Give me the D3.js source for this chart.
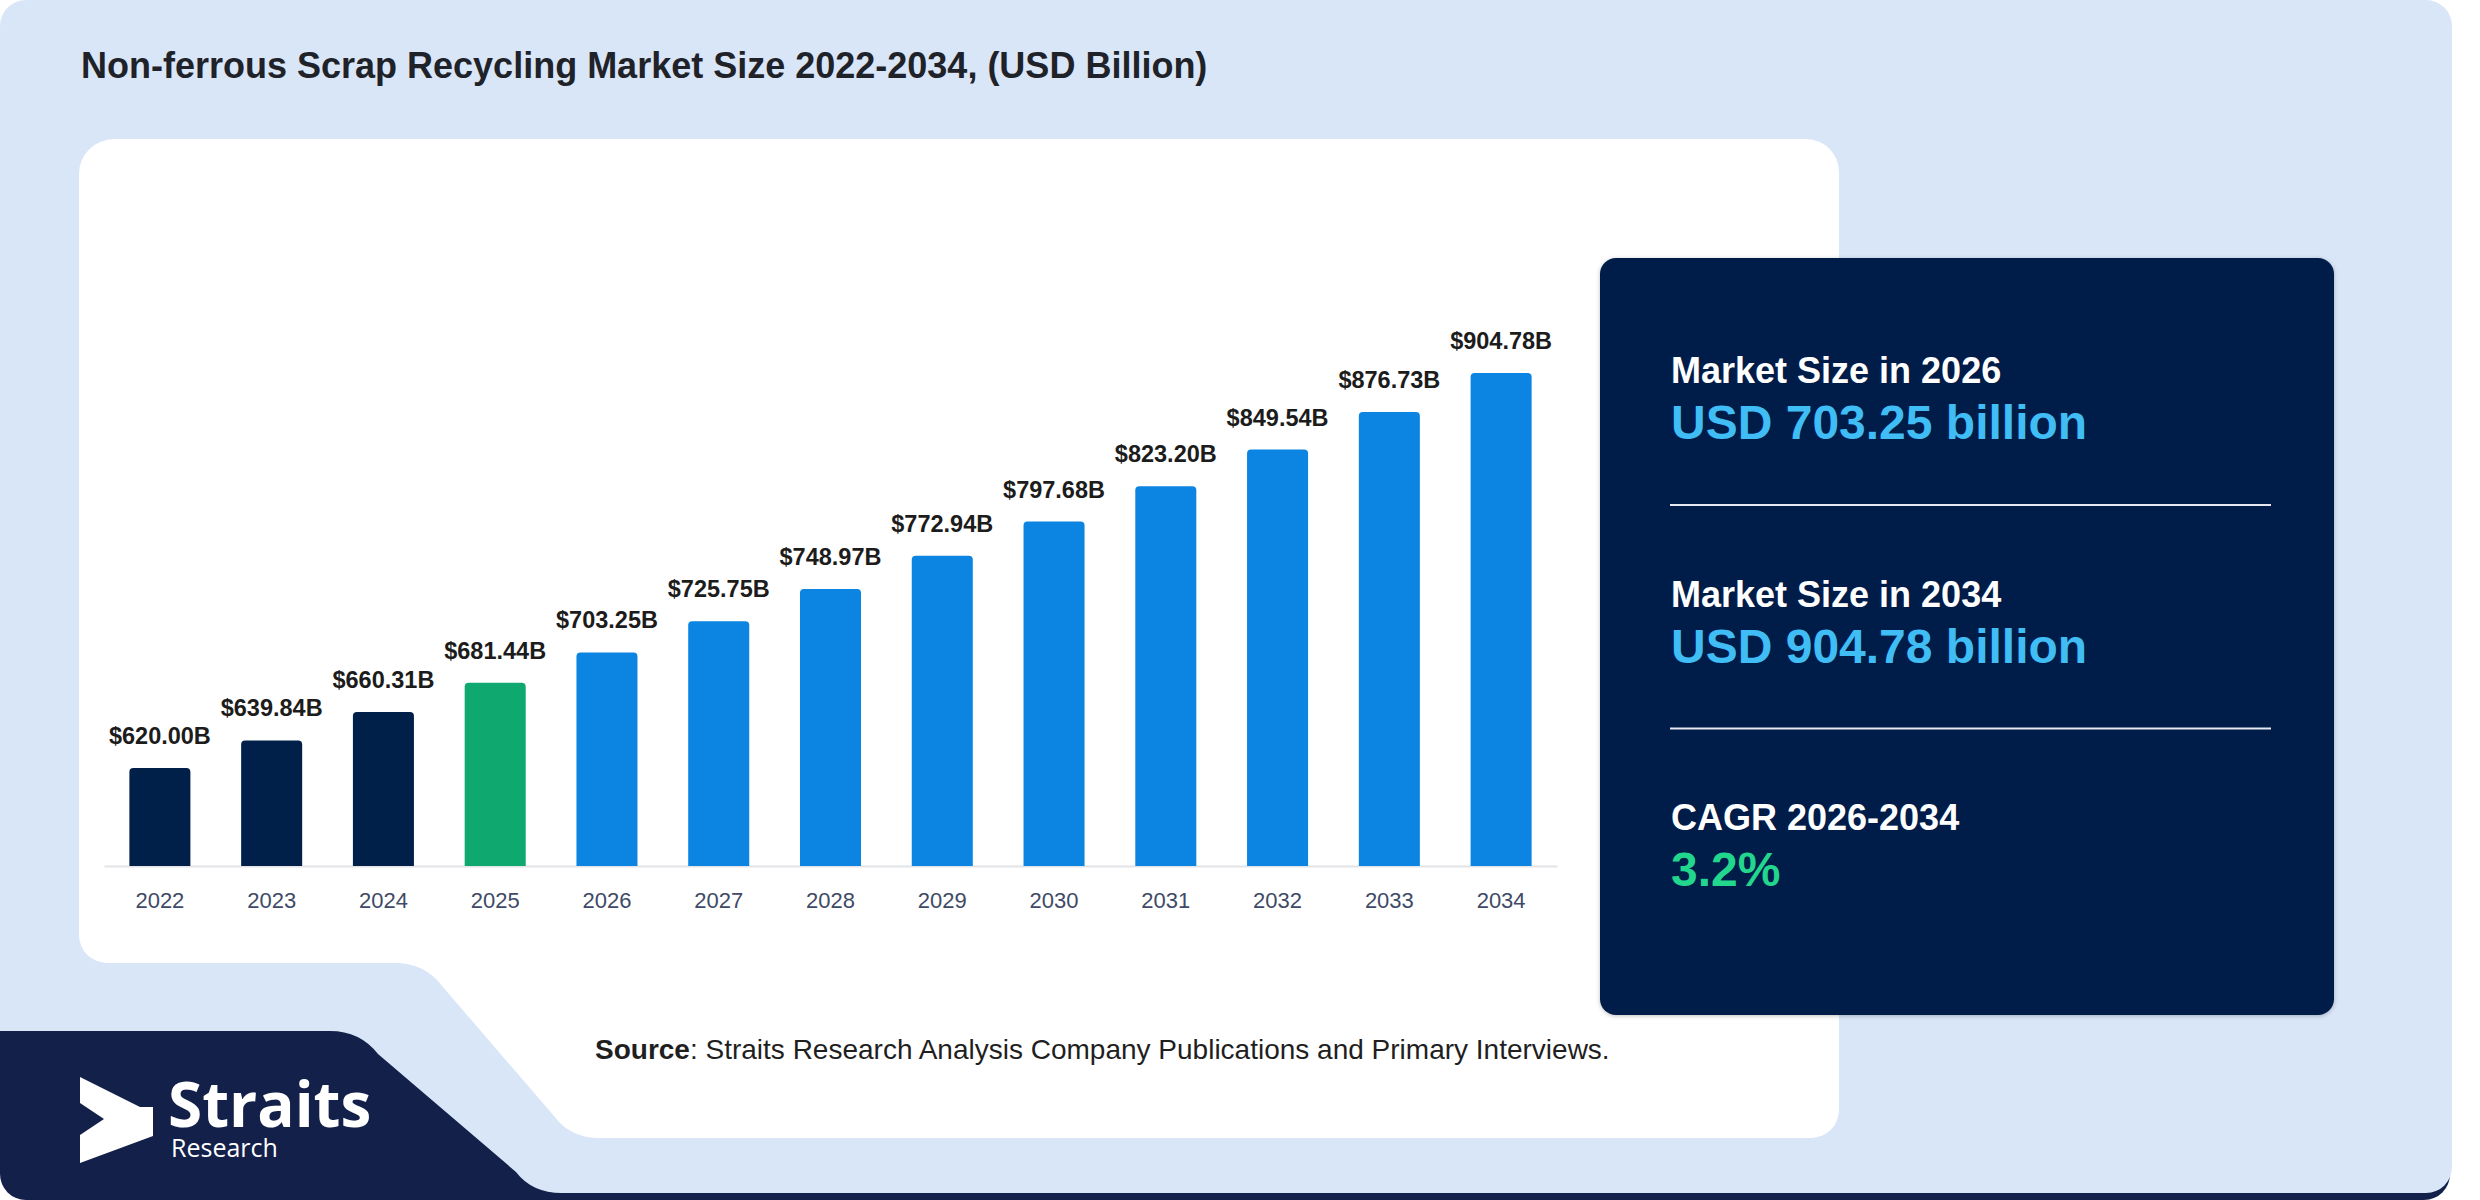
<!DOCTYPE html>
<html>
<head>
<meta charset="utf-8">
<script src="https://cdn.jsdelivr.net/npm/d3@7"></script>
<style>
  html, body { margin: 0; padding: 0; background: #ffffff; }
  svg { display: block; font-family: "Liberation Sans", Arial, sans-serif; }
</style>
</head>
<body>
<script>
// data
const years = ["2022", "2023", "2024", "2025", "2026", "2027", "2028", "2029", "2030", "2031", "2032", "2033", "2034"];
const values = [620.00, 639.84, 660.31, 681.44, 703.25, 725.75, 748.97, 772.94, 797.68, 823.20, 849.54, 876.73, 904.78];
const phase = ["hist", "hist", "hist", "base", "fcst", "fcst", "fcst", "fcst", "fcst", "fcst", "fcst", "fcst", "fcst"];
const statLabels = ["Market Size in 2026", "Market Size in 2034", "CAGR 2026-2034"];
const statValues = ["USD 703.25 billion", "USD 904.78 billion", "3.2%"];

const w = 2480, h = 1200;
const colors = { hist: "#00204a", base: "#0fa86f", fcst: "#0b84e2" };

const svg = d3.select("body").append("svg")
    .attr("width", w)
    .attr("height", h);

const defs = svg.append("defs");
const shadow = defs.append("filter").attr("id", "shadow")
    .attr("x", "-5%").attr("y", "-5%").attr("width", "110%").attr("height", "110%");
shadow.append("feDropShadow").attr("dx", 0).attr("dy", 1).attr("stdDeviation", 2)
    .attr("flood-color", "#000").attr("flood-opacity", 0.25);

//background layers
svg.append("rect")
    .attr("x", 0).attr("y", 980).attr("width", 2450).attr("height", 220)
    .attr("rx", 26)
    .attr("fill", "#13204a");

svg.append("path")
    .attr("d", "M26,0 H2426 A26,26 0 0 1 2452,26 V1167 A26,26 0 0 1 2426,1193 H562 " +
               "Q532,1193 516,1172 L378,1054 Q360,1031 330,1031 H0 V26 A26,26 0 0 1 26,0 Z")
    .attr("fill", "#d9e6f8");

//white chart card with the notch bottom-left
svg.append("path")
    .attr("d", "M114,139 H1806 A33,33 0 0 1 1839,172 V1110 A28,28 0 0 1 1811,1138 H600 " +
               "Q570,1138 554,1116 L442,986 Q425,963 395,963 H107 A28,28 0 0 1 79,935 V174 A35,35 0 0 1 114,139 Z")
    .attr("fill", "#ffffff");

//title
svg.append("text")
    .attr("x", 81).attr("y", 78)
    .attr("font-size", 36).attr("font-weight", 700)
    .attr("fill", "#1f2329")
    .text("Non-ferrous Scrap Recycling Market Size 2022-2034, (USD Billion)");

//scales
const xScale = d3.scaleBand()
    .domain(years)
    .range([104, 1557])
    .paddingInner(0.454)
    .paddingOuter(0.227);

const yScale = d3.scaleLinear()
    .domain([549.3, 904.78])
    .range([866, 373]);

//bottom axis
const bottomAxis = d3.axisBottom(xScale)
    .tickSize(0)
    .tickPadding(26);

const axisG = svg.append("g")
    .attr("transform", "translate(0,866)")
    .call(bottomAxis);
axisG.select(".domain").attr("stroke", "#e2e4e8").attr("stroke-width", 2);
axisG.selectAll("text")
    .attr("font-size", 22)
    .attr("font-family", "Liberation Sans, Arial, sans-serif")
    .attr("fill", "#3e4a66");

//bars with rounded tops
const bw = xScale.bandwidth();
const rr = 4;
function barPath(x, y, width, y0) {
    return `M${x},${y0} V${y + rr} Q${x},${y} ${x + rr},${y} H${x + width - rr} Q${x + width},${y} ${x + width},${y + rr} V${y0} Z`;
}

svg.append("g").selectAll("path")
    .data(years)
    .join("path")
    .attr("d", (d, i) => barPath(xScale(d), yScale(values[i]), bw, yScale.range()[0]))
    .attr("fill", (d, i) => colors[phase[i]]);

//value labels
svg.append("g").selectAll("text")
    .data(years)
    .join("text")
    .attr("x", d => xScale(d) + bw / 2)
    .attr("y", (d, i) => yScale(values[i]) - 24)
    .attr("text-anchor", "middle")
    .attr("font-size", 23.5).attr("font-weight", 700)
    .attr("fill", "#1c1c1c")
    .text((d, i) => "$" + d3.format(".2f")(values[i]) + "B");

//right summary panel
svg.append("rect")
    .attr("x", 1600).attr("y", 258).attr("width", 734).attr("height", 757)
    .attr("rx", 16)
    .attr("fill", "#001f4a")
    .attr("filter", "url(#shadow)");

const statG = svg.append("g");
statLabels.forEach((lab, i) => {
    const y0 = 383 + i * 223.5;
    statG.append("text")
        .attr("x", 1671).attr("y", y0)
        .attr("font-size", 36).attr("font-weight", 700)
        .attr("fill", "#ffffff")
        .text(lab);
    statG.append("text")
        .attr("x", 1671).attr("y", y0 + 56)
        .attr("font-size", 48).attr("font-weight", 700)
        .attr("fill", i === 2 ? "#22d68e" : "#3fbdf4")
        .text(statValues[i]);
    if (i < 2) {
        statG.append("line")
            .attr("x1", 1670).attr("x2", 2271)
            .attr("y1", y0 + 122).attr("y2", y0 + 122)
            .attr("stroke", "#e6e9ef").attr("stroke-width", 2);
    }
});

//source line
const src = svg.append("text")
    .attr("x", 595).attr("y", 1059)
    .attr("font-size", 28)
    .attr("fill", "#1f1f1f");
src.append("tspan").attr("font-weight", 700).text("Source");
src.append("tspan").text(": Straits Research Analysis Company Publications and Primary Interviews.");

//logo
const logo = svg.append("g").attr("transform", "translate(80,1077)");
logo.append("path")
    .attr("d", "M0,0 L60,30 H73 V59 L0,86 V58 L24,42 L0,26 Z")
    .attr("fill", "#ffffff");
logo.append("text")
    .attr("x", 88).attr("y", 50)
    .attr("font-family", "Open Sans, sans-serif")
    .attr("font-size", 62).attr("font-weight", 700)
    .attr("fill", "#ffffff")
    .text("Straits");
logo.append("text")
    .attr("x", 91).attr("y", 80)
    .attr("font-family", "Open Sans, sans-serif")
    .attr("font-size", 25)
    .attr("fill", "#ffffff")
    .text("Research");
</script>
</body>
</html>
